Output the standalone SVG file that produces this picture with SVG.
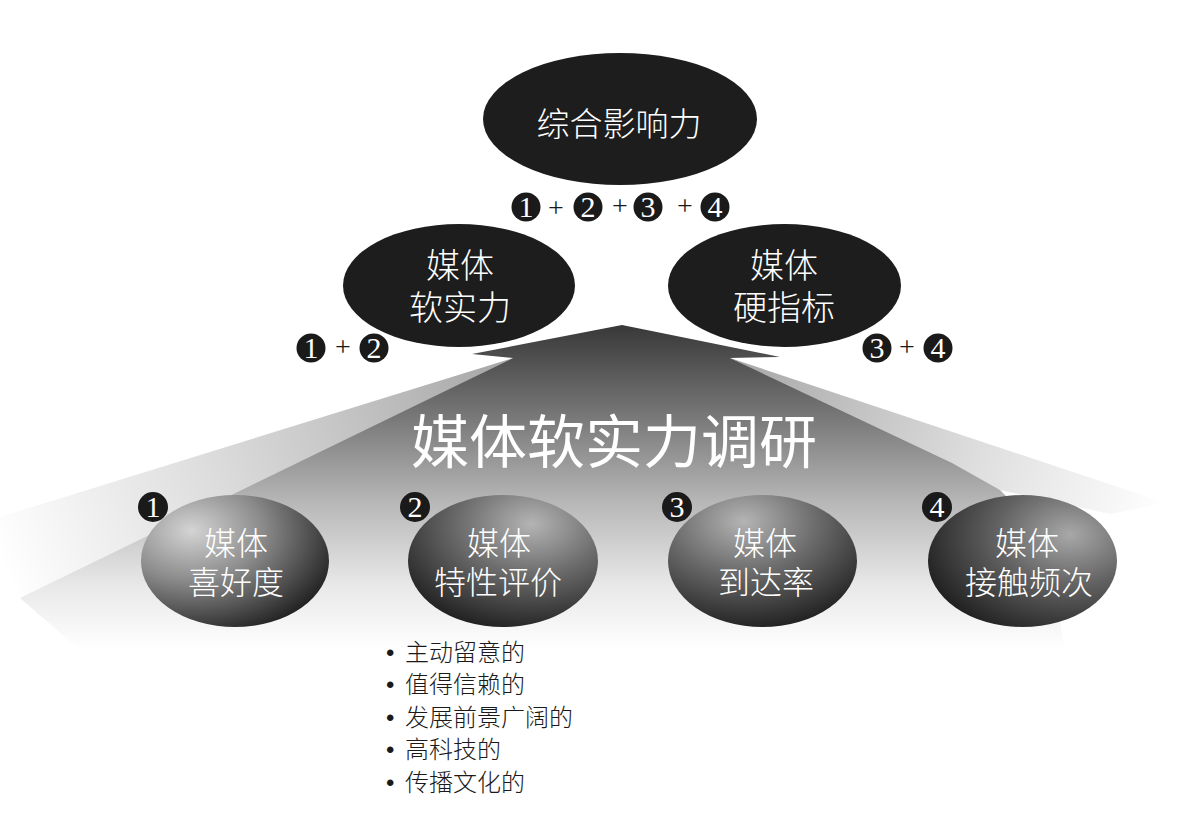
<svg xmlns="http://www.w3.org/2000/svg" width="1199" height="827" viewBox="0 0 1199 827">
<defs>
<style>
.dark{fill:#1d1d1d}
.lbl{font-family:"Noto Sans CJK SC","Noto Sans CJK JP",sans-serif;fill:#fff;text-anchor:middle;font-weight:300}
.numc{fill:#1a1a1a}
.numt{font-family:"Liberation Serif",serif;font-size:30px;fill:#fff;text-anchor:middle}
.plus{font-family:"Liberation Serif",serif;font-size:28px;fill:#1a1a1a;text-anchor:middle}
.title{font-family:"Noto Sans CJK SC","Noto Sans CJK JP",sans-serif;font-size:58px;fill:#fff;text-anchor:middle}
.list{font-family:"Noto Sans CJK SC","Noto Sans CJK JP",sans-serif;font-size:24px;fill:#1a1a1a;font-weight:300}
.bul{font-family:"Liberation Sans",sans-serif}
</style>
<linearGradient id="gBody" x1="0" y1="325" x2="0" y2="650" gradientUnits="userSpaceOnUse">
<stop offset="0" stop-color="#383838"/>
<stop offset="0.3" stop-color="#7c7c7c"/>
<stop offset="0.55" stop-color="#b8b8b8"/>
<stop offset="0.8" stop-color="#e8e8e8"/>
<stop offset="1" stop-color="#ffffff"/>
</linearGradient>
<linearGradient id="gLeft" x1="513" y1="360" x2="0" y2="560" gradientUnits="userSpaceOnUse">
<stop offset="0" stop-color="#a6a6a6"/>
<stop offset="0.6" stop-color="#dedede"/>
<stop offset="1" stop-color="#ffffff"/>
</linearGradient>
<linearGradient id="gRight" x1="730" y1="360" x2="1166" y2="503" gradientUnits="userSpaceOnUse">
<stop offset="0" stop-color="#a6a6a6"/>
<stop offset="0.6" stop-color="#e0e0e0"/>
<stop offset="1" stop-color="#ffffff"/>
</linearGradient>
<radialGradient id="b1" cx="0.27" cy="0.27" fx="0.27" fy="0.27" r="0.85">
<stop offset="0" stop-color="#d4d4d4"/><stop offset="0.45" stop-color="#8a8a8a"/><stop offset="1" stop-color="#1c1c1c"/>
</radialGradient>
<radialGradient id="b2" cx="0.65" cy="0.22" fx="0.65" fy="0.22" r="0.85">
<stop offset="0" stop-color="#b4b4b4"/><stop offset="0.45" stop-color="#6c6c6c"/><stop offset="1" stop-color="#1c1c1c"/>
</radialGradient>
<radialGradient id="b3" cx="0.4" cy="0.2" fx="0.4" fy="0.2" r="0.85">
<stop offset="0" stop-color="#b4b4b4"/><stop offset="0.45" stop-color="#6c6c6c"/><stop offset="1" stop-color="#1c1c1c"/>
</radialGradient>
<radialGradient id="b4" cx="0.75" cy="0.3" fx="0.75" fy="0.3" r="0.85">
<stop offset="0" stop-color="#a8a8a8"/><stop offset="0.45" stop-color="#636363"/><stop offset="1" stop-color="#1c1c1c"/>
</radialGradient>
</defs>
<rect width="1199" height="827" fill="#fff"/>

<g id="connectors">
<polygon points="513,358 0,517 0,600 25,598" fill="url(#gLeft)"/>
<polygon points="730,358 1166,503 1110,514 1000,490" fill="url(#gRight)"/>
<polygon points="622,325 780,357 730,358 952,463 1000,490 1045,535 1065,650 80,650 20,598 513,358 472,354" fill="url(#gBody)"/>
<text class="title" x="614" y="463">媒体软实力调研</text>
</g>

<g id="node-top">
<ellipse class="dark" cx="620" cy="119" rx="137" ry="66"/>
<text class="lbl" x="619" y="136" font-size="33">综合影响力</text>
</g>
<g id="formula-top">
<circle class="numc" cx="526" cy="207" r="14.5"/><text class="numt" x="526" y="217">1</text>
<text class="plus" x="556" y="217" font-size="34">+</text>
<circle class="numc" cx="588" cy="207" r="14.5"/><text class="numt" x="588" y="217">2</text>
<text class="plus" x="620" y="215">+</text>
<circle class="numc" cx="648" cy="207" r="14.5"/><text class="numt" x="648" y="217">3</text>
<text class="plus" x="685" y="215">+</text>
<circle class="numc" cx="715" cy="207" r="14.5"/><text class="numt" x="715" y="217">4</text>
</g>

<g id="node-soft">
<ellipse class="dark" cx="459" cy="285.5" rx="116" ry="61.5"/>
<text class="lbl" x="460" y="278" font-size="34">媒体</text>
<text class="lbl" x="460" y="320" font-size="34">软实力</text>
</g>
<g id="formula-soft">
<circle class="numc" cx="311" cy="348" r="14.5"/><text class="numt" x="311" y="358">1</text>
<text class="plus" x="343" y="356">+</text>
<circle class="numc" cx="374" cy="348" r="14.5"/><text class="numt" x="374" y="358">2</text>
</g>

<g id="node-hard">
<ellipse class="dark" cx="784.5" cy="285.5" rx="116.5" ry="61.5"/>
<text class="lbl" x="784" y="278" font-size="34">媒体</text>
<text class="lbl" x="784" y="320" font-size="34">硬指标</text>
</g>
<g id="formula-hard">
<circle class="numc" cx="877" cy="348" r="14.5"/><text class="numt" x="877" y="358">3</text>
<text class="plus" x="907" y="356">+</text>
<circle class="numc" cx="938" cy="348" r="14.5"/><text class="numt" x="938" y="358">4</text>
</g>

<g id="node-1">
<ellipse cx="235" cy="561" rx="94" ry="66" fill="url(#b1)"/>
<text class="lbl" x="236" y="555" font-size="32">媒体</text>
<text class="lbl" x="236" y="594" font-size="32">喜好度</text>
<circle class="numc" cx="153" cy="507" r="15"/><text class="numt" x="153" y="517">1</text>
</g>
<g id="node-2">
<ellipse cx="503" cy="561" rx="95" ry="66" fill="url(#b2)"/>
<text class="lbl" x="499" y="555" font-size="32">媒体</text>
<text class="lbl" x="498" y="594" font-size="32">特性评价</text>
<circle class="numc" cx="415" cy="507" r="15"/><text class="numt" x="415" y="517">2</text>
</g>
<g id="node-3">
<ellipse cx="762.5" cy="561" rx="94.5" ry="66" fill="url(#b3)"/>
<text class="lbl" x="765" y="555" font-size="32">媒体</text>
<text class="lbl" x="766" y="594" font-size="32">到达率</text>
<circle class="numc" cx="677" cy="507" r="15"/><text class="numt" x="677" y="517">3</text>
</g>
<g id="node-4">
<ellipse cx="1022.5" cy="561" rx="94.5" ry="66" fill="url(#b4)"/>
<text class="lbl" x="1027" y="555" font-size="32">媒体</text>
<text class="lbl" x="1029" y="594" font-size="32">接触频次</text>
<circle class="numc" cx="937" cy="507" r="15"/><text class="numt" x="937" y="517">4</text>
</g>

<g id="list">
<text class="list" y="661"><tspan class="bul" x="386">•</tspan><tspan x="405">主动留意的</tspan></text>
<text class="list" y="693"><tspan class="bul" x="386">•</tspan><tspan x="405">值得信赖的</tspan></text>
<text class="list" y="726"><tspan class="bul" x="386">•</tspan><tspan x="405">发展前景广阔的</tspan></text>
<text class="list" y="758"><tspan class="bul" x="386">•</tspan><tspan x="405">高科技的</tspan></text>
<text class="list" y="791"><tspan class="bul" x="386">•</tspan><tspan x="405">传播文化的</tspan></text>
</g>
</svg>
